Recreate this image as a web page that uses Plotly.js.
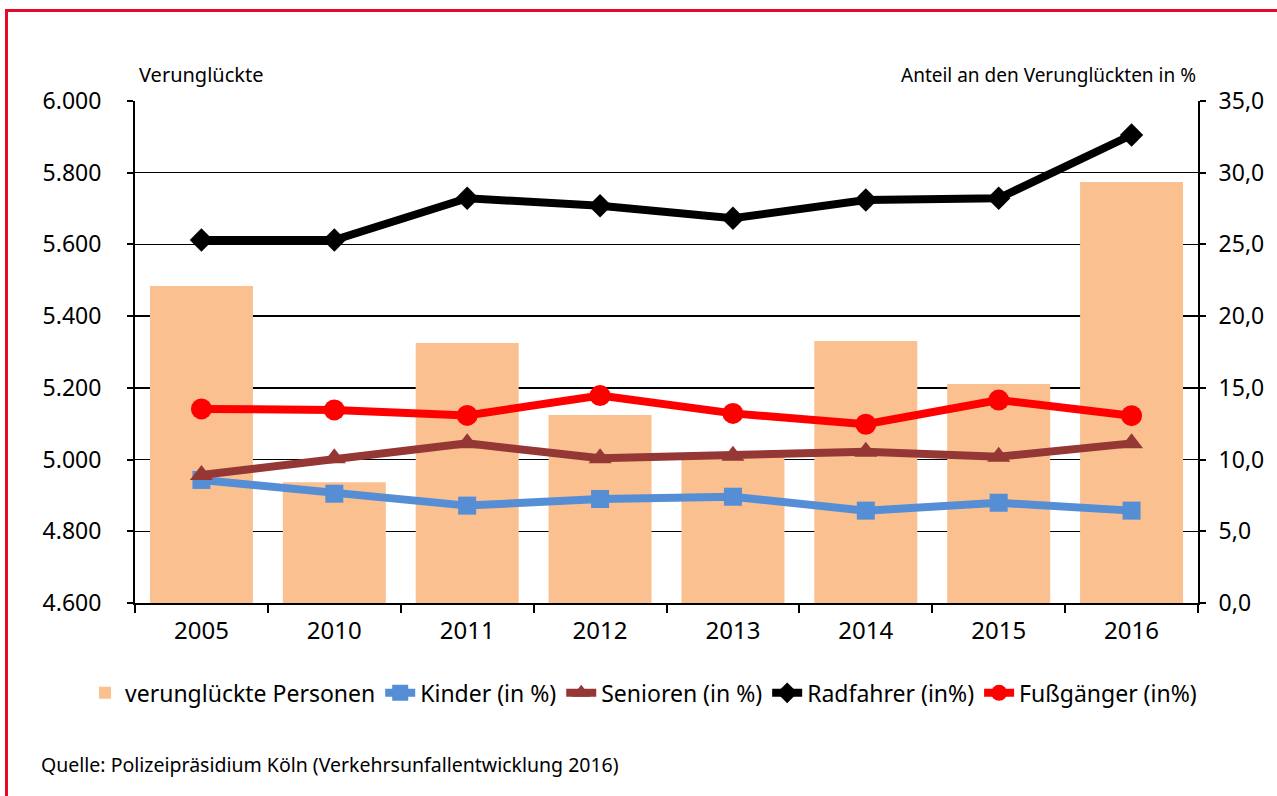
<!DOCTYPE html>
<html>
<head>
<meta charset="utf-8">
<script src="https://cdn.plot.ly/plotly-3.0.1.min.js"></script>
<style>
  html, body { margin: 0; padding: 0; background: #ffffff; overflow: hidden; }
  #chart { width: 1277px; height: 796px; }
  #frame { position: absolute; left: 5px; top: 9px; width: 1400px; height: 900px;
           border-left: 3px solid #E30A2A; border-top: 3px solid #E30A2A; pointer-events: none; }
</style>
</head>
<body>
<div id="chart"></div>
<div id="frame"></div>
<script>
const years = ["2005", "2010", "2011", "2012", "2013", "2014", "2015", "2016"];
const verunglueckte = [5484, 4937, 5325, 5124, 5007, 5331, 5211, 5774];
const kinder = [8.58, 7.62, 6.79, 7.25, 7.41, 6.44, 6.99, 6.44];
const senioren = [8.92, 10.09, 11.13, 10.09, 10.27, 10.55, 10.2, 11.13];
const radfahrer = [25.31, 25.31, 28.22, 27.70, 26.82, 28.10, 28.22, 32.63];
const fussgaenger = [13.53, 13.46, 13.08, 14.46, 13.22, 12.46, 14.15, 13.06];

const FONT = "Noto Sans, Open Sans, sans-serif";

const traces = [
  { type: "bar", x: years, y: verunglueckte, name: "verunglückte Personen",
    marker: { color: "#FAC090" }, yaxis: "y" },
  { type: "scatter", mode: "lines+markers", x: years, y: kinder, name: "Kinder (in %)", yaxis: "y2",
    line: { color: "#558ED5", width: 8 }, marker: { symbol: "square", size: 18, color: "#558ED5" } },
  { type: "scatter", mode: "lines+markers", x: years, y: senioren, name: "Senioren (in %)", yaxis: "y2",
    line: { color: "#953735", width: 8 }, marker: { symbol: "triangle-up", size: 20, color: "#953735" } },
  { type: "scatter", mode: "lines+markers", x: years, y: radfahrer, name: "Radfahrer (in%)", yaxis: "y2",
    line: { color: "#000000", width: 8 }, marker: { symbol: "diamond", size: 18, color: "#000000" } },
  { type: "scatter", mode: "lines+markers", x: years, y: fussgaenger, name: "Fußgänger (in%)", yaxis: "y2",
    line: { color: "#FF0000", width: 8 }, marker: { symbol: "circle", size: 21, color: "#FF0000" } }
];

const layout = {
  width: 1277, height: 796,
  margin: { l: 135, r: 79, t: 101, b: 193 },
  paper_bgcolor: "rgba(0,0,0,0)", plot_bgcolor: "rgba(0,0,0,0)",
  separators: ",.",
  font: { family: FONT, size: 23, color: "#000000" },
  bargap: 0.225,
  hovermode: false,
  showlegend: true,
  legend: { orientation: "h", x: -0.047, xanchor: "left", y: -0.179, yanchor: "middle",
            font: { family: FONT, size: 23, color: "#000" }, itemwidth: 30, tracegroupgap: 0,
            traceorder: "normal" },
  xaxis: { type: "category", showline: true, linecolor: "#000", linewidth: 2,
           ticks: "outside", tickson: "boundaries", ticklen: 8, tickwidth: 2, tickcolor: "#000",
           showgrid: false, tickfont: { size: 24 }, ticklabelstandoff: 5 },
  yaxis: { range: [4600, 6000], dtick: 200, tickformat: ",d", showline: true, linecolor: "#000", linewidth: 2,
           ticks: "outside", ticklen: 6, tickwidth: 2, tickcolor: "#000",
           showgrid: true, gridcolor: "#000", gridwidth: 1.5, zeroline: false,
           tickfont: { size: 23 }, ticklabelstandoff: 21 },
  yaxis2: { range: [0, 35], dtick: 5, tickformat: ".1f", overlaying: "y", side: "right",
            showline: true, linecolor: "#000", linewidth: 2, ticks: "outside", ticklen: 6, tickwidth: 2,
            tickcolor: "#000", showgrid: false, zeroline: false, tickfont: { size: 23 }, ticklabelstandoff: 8 },
  annotations: [
    { text: "Verunglückte", xref: "paper", yref: "paper", x: 0.002, y: 1.052, xanchor: "left", yanchor: "middle",
      showarrow: false, font: { family: FONT, size: 20 } },
    { text: "Anteil an den Verunglückten in %", xref: "paper", yref: "paper", x: 1.0, y: 1.052,
      xanchor: "right", yanchor: "middle", showarrow: false, font: { family: FONT, size: 19 } },
    { text: "Quelle: Polizeipräsidium Köln (Verkehrsunfallentwicklung 2016)", xref: "paper", yref: "paper",
      x: -0.09, y: -0.322, xanchor: "left", yanchor: "middle", showarrow: false, font: { family: FONT, size: 19.5 } }
  ]
};

Plotly.newPlot("chart", traces, layout, { displayModeBar: false, staticPlot: true });
</script>
</body>
</html>
